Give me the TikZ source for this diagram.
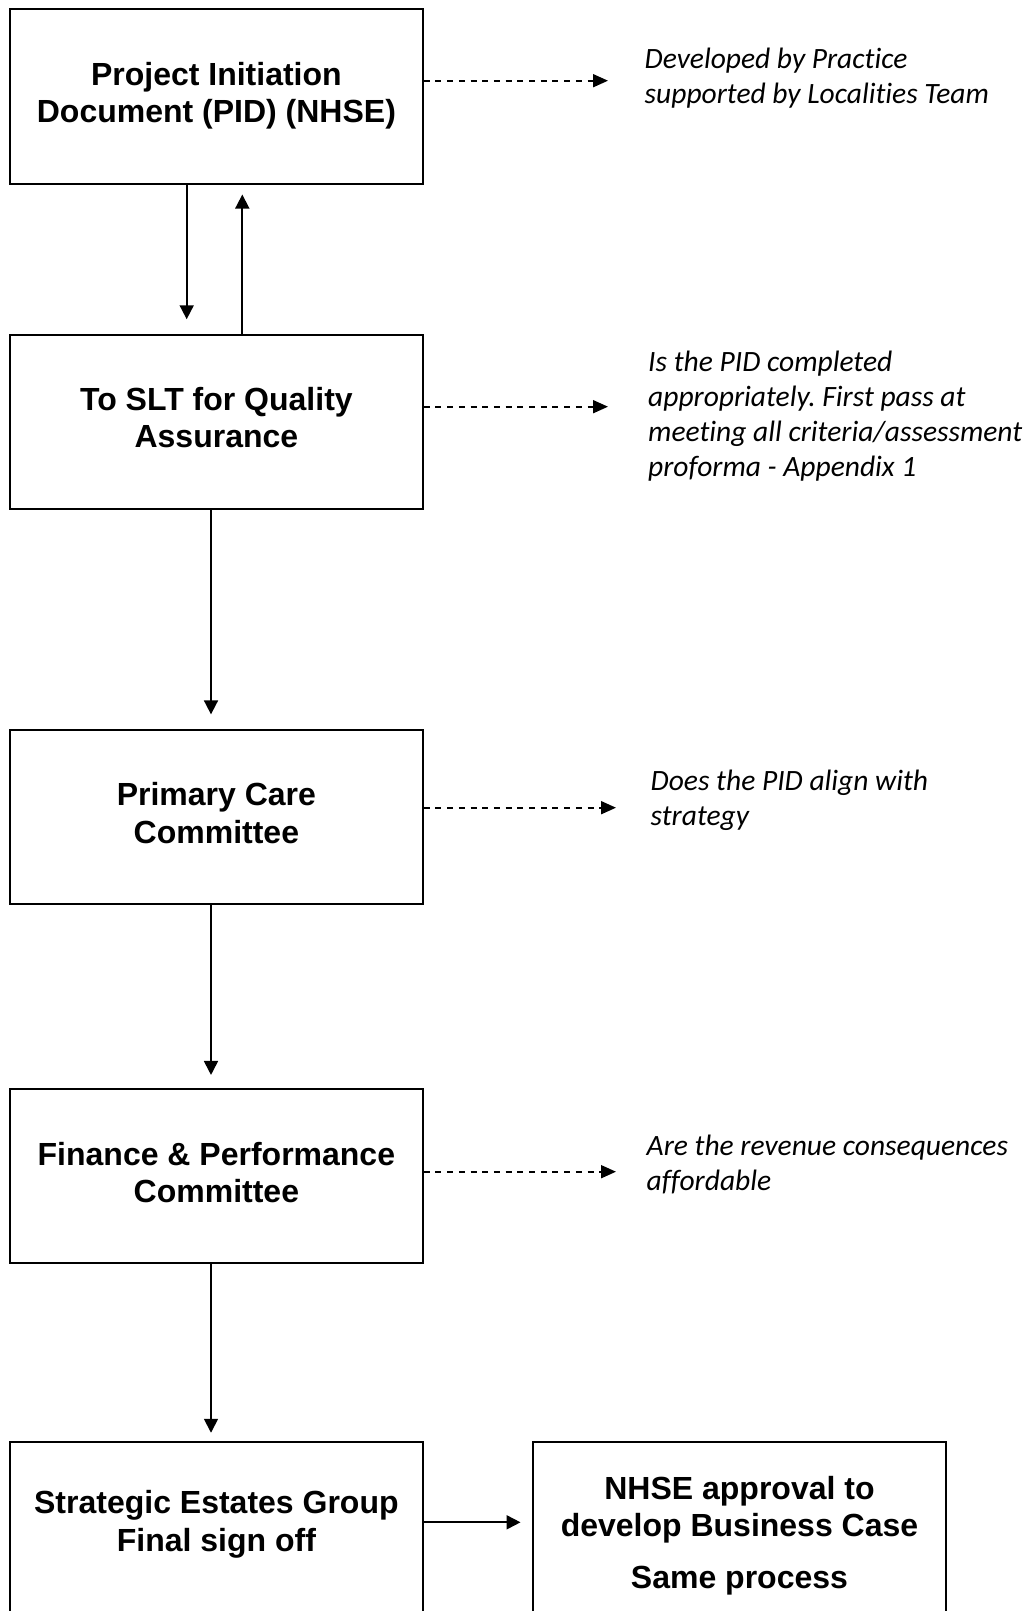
\documentclass[tikz,border=0pt]{standalone}
\usepackage{fontspec}
\setmainfont{Liberation Sans}
\newfontfamily\notefont[Ligatures={NoCommon}]{Carlito}
\usetikzlibrary{arrows.meta}
\frenchspacing
\begin{document}
\begin{tikzpicture}[x=1pt,y=-1pt,
  box/.style={draw, line width=2pt, minimum width=412.7pt, minimum height=174.5pt,
    inner sep=0pt, align=center, font=\bfseries\fontsize{32}{37.3}\selectfont},
  note/.style={anchor=north west, inner sep=0pt, align=left,
    font=\notefont\itshape\fontsize{29.5}{35}\selectfont},
  flow/.style={-{Triangle[length=14pt,width=14pt]}, line width=1.8pt},
  dashflow/.style={-{Triangle[length=15pt,width=13pt]}, line width=1.8pt, dash pattern=on 6pt off 5.7pt}
]
\useasboundingbox (0,0) rectangle (1034,1611);
\fill[white] (0,0) rectangle (1034,1611);
\clip (0,0) rectangle (1034,1611);

% boxes
\node[box] (b1) at (216.4,96.3) {\strut Project Initiation\\\strut Document (PID) (NHSE)};
\node[box] (b2) at (216.4,421.8) {\strut To SLT for Quality\\\strut Assurance};
\node[box] (b3) at (216.4,816.9) {\strut Primary Care\\\strut Committee};
\node[box] (b4) at (216.4,1176.2) {\strut Finance \& Performance\\\strut Committee};
\node[box] (b5) at (216.4,1529.5) {\strut Strategic Estates Group\\\rule[-20pt]{0pt}{26pt}Final sign off};
\node[box] (b6) at (739.5,1529.5) {\rule{0pt}{40pt}NHSE approval to\\\strut develop Business Case\\[14pt]\strut Same process};

% notes
\node[note] (n1) at (644.5,43.8) {\strut Developed by Practice\\\strut supported by Localities Team};
\node[note] (n2) at (648,347.2) {\strut Is the PID completed\\\strut appropriately. First pass at\\\strut meeting all criteria/assessment\\\strut proforma - Appendix 1};
\node[note] (n3) at (650.5,765.5) {\strut Does the PID align with\\\strut strategy};
\node[note] (n4) at (646.5,1130.5) {\strut Are the revenue consequences\\\strut affordable};

% ends of the dashed connectors
\coordinate (e1) at (608,80.7);
\coordinate (e2) at (608,406.7);
\coordinate (e3) at (616,807.7);
\coordinate (e4) at (616,1171.7);

% flow connectors
\draw[flow, shorten >=14.3pt] ([xshift=-29.7pt]b1.south) -- ([xshift=-29.7pt]b2.north);
\draw[flow, shorten >=10pt] ([xshift=25.9pt]b2.north) -- ([xshift=25.9pt]b1.south);
\draw[flow, shorten >=14.3pt] ([xshift=-5.4pt]b2.south) -- ([xshift=-5.4pt]b3.north);
\draw[flow, shorten >=13pt] ([xshift=-5.4pt]b3.south) -- ([xshift=-5.4pt]b4.north);
\draw[flow, shorten >=8.5pt] ([xshift=-5.4pt]b4.south) -- ([xshift=-5.4pt]b5.north);
\draw[flow, shorten >=11.6pt] ([yshift=7.2pt]b5.east) -- ([yshift=7.2pt]b6.west);

% dashed connectors
\draw[dashflow] (b1.east |- e1) -- (e1);
\draw[dashflow] (b2.east |- e2) -- (e2);
\draw[dashflow] (b3.east |- e3) -- (e3);
\draw[dashflow] (b4.east |- e4) -- (e4);
\end{tikzpicture}
\end{document}
